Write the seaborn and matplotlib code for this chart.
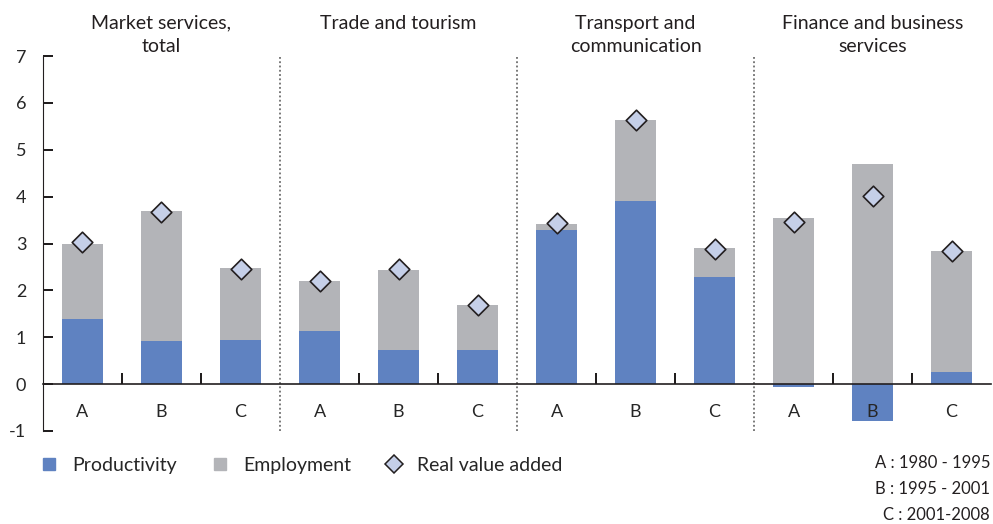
import numpy as np
import pandas as pd
import matplotlib
matplotlib.use("Agg")
import matplotlib.pyplot as plt
import seaborn as sns
from matplotlib.lines import Line2D

# Data (percentage points)
sectors = ["Market services,\ntotal", "Trade and tourism",
           "Transport and\ncommunication", "Finance and business\nservices"]
periods = ["A", "B", "C"]
productivity = [1.40, 0.93, 0.95,
                1.13, 0.72, 0.72,
                3.28, 3.90, 2.28,
                -0.07, -0.78, 0.26]
employment = [1.60, 2.76, 1.52,
              1.07, 1.71, 0.96,
              0.13, 1.73, 0.62,
              3.54, 4.69, 2.58]
real_value_added = [3.03, 3.67, 2.45,
                    2.20, 2.45, 1.69,
                    3.43, 5.63, 2.88,
                    3.46, 4.01, 2.85]
period_labels = ["A : 1980 - 1995", "B : 1995 - 2001", "C : 2001-2008"]

blue = "#5f82c1"
grey = "#b3b4b8"
diamond = "#c5cfe8"
ink = "#231f20"

sns.set_style("white")
plt.rcParams["font.family"] = ["Lato", "DejaVu Sans"]
plt.rcParams["axes.unicode_minus"] = False

df = pd.DataFrame({
    "pos": np.arange(len(productivity)),
    "prod": productivity,
    "emp": employment,
    "rva": real_value_added,
})
df["stack_top"] = df["prod"].clip(lower=0) + df["emp"]

fig = plt.figure(figsize=(9.93, 5.24), dpi=100)
ax = fig.add_axes([0.0433, 0.1775, 0.9547, 0.7155])

# grey first (full stack height), blue drawn over it
sns.barplot(data=df, x="pos", y="stack_top", color=grey, width=0.52,
            saturation=1, linewidth=0, ax=ax, zorder=2)
sns.barplot(data=df, x="pos", y="prod", color=blue, width=0.52,
            saturation=1, linewidth=0, ax=ax, zorder=3)
sns.scatterplot(data=df, x="pos", y="rva", marker="D", s=110, color=diamond,
                edgecolor=ink, linewidth=1.2, ax=ax, zorder=6, legend=False)

n = len(productivity)
ax.set_xlim(-0.5, n - 0.5)
ax.set_ylim(-1, 7)
ax.set_xlabel("")
ax.set_ylabel("")

# spines: y axis on left, x axis along zero
sns.despine(ax=ax)
ax.spines["bottom"].set_position(("data", 0))
ax.spines["bottom"].set_color(ink)
ax.spines["bottom"].set_linewidth(1.2)
ax.spines["bottom"].set_zorder(5)
ax.spines["left"].set_color(ink)

yticks = list(range(-1, 8))
ax.set_yticks(yticks)
ax.tick_params(axis="y", which="major", left=True, direction="in",
               length=7, width=1.3, color="k", labelsize=13, pad=12)

# period letters below the zero line (drawn above the bars)
ax.set_xticks(range(n))
ax.set_xticklabels(periods * len(sectors))
ax.tick_params(axis="x", which="major", bottom=True, length=0, labelsize=13,
               pad=14)
minor = [i + 0.5 for i in range(n - 1) if (i + 1) % 3 != 0]
ax.set_xticks(minor, minor=True)
ax.tick_params(axis="x", which="minor", bottom=True, direction="in",
               length=8, width=1.3, color="k")
ax.xaxis.set_zorder(5)

# tick marks drawn as tick markers too, so they always show
ax.plot(minor, [0] * len(minor), linestyle="", marker=2, markersize=8,
        markeredgewidth=1.3, color=ink, zorder=7, clip_on=False)
ax.plot([-0.5] * len(yticks), yticks, linestyle="", marker=1, markersize=7,
        markeredgewidth=1.3, color=ink, zorder=7, clip_on=False)

# dotted separators between sectors
for k in range(1, len(sectors)):
    ax.axvline(3 * k - 0.5, ymin=0, ymax=1, color="#555555",
               linestyle=(0, (1.2, 1.6)), linewidth=1.1, zorder=1)

# sector titles
for k, name in enumerate(sectors):
    ax.text(3 * k + 1, 1.11, name, transform=ax.get_xaxis_transform(),
            ha="center", va="top", fontsize=14, color=ink,
            linespacing=1.45)

# legend
handles = [
    Line2D([], [], marker="s", linestyle="", markersize=9,
           markerfacecolor=blue, markeredgecolor=blue),
    Line2D([], [], marker="s", linestyle="", markersize=9,
           markerfacecolor=grey, markeredgecolor=grey),
    Line2D([], [], marker="D", linestyle="", markersize=9,
           markerfacecolor=diamond, markeredgecolor=ink, markeredgewidth=1.1),
]
fig.legend(handles, ["Productivity", "Employment", "Real value added"],
           loc="center left", bbox_to_anchor=(0.02, 0.112), ncol=3,
           frameon=False, fontsize=14, handletextpad=0.6,
           columnspacing=1.6, handlelength=1.2)

for i, lab in enumerate(period_labels):
    fig.text(0.997, 0.116 - i * 0.049, lab, ha="right", va="center",
             fontsize=12, color=ink)

fig.savefig("out.png", dpi=100)
